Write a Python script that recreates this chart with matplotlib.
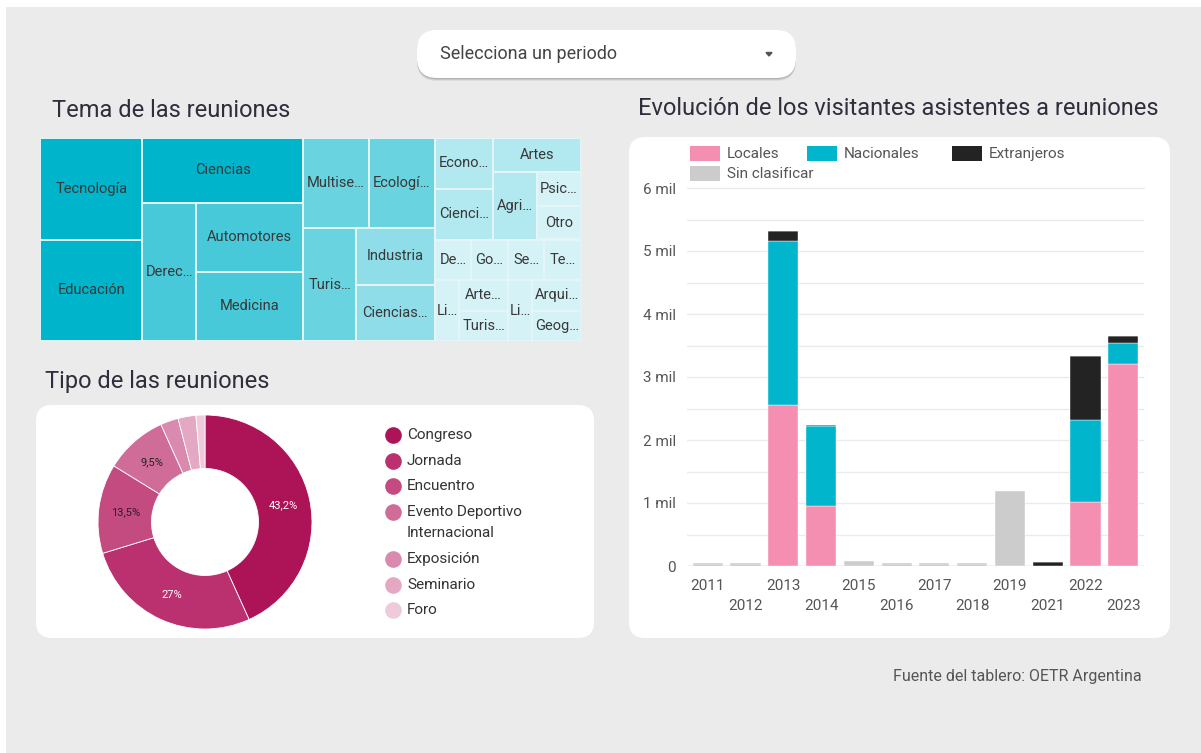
import matplotlib.pyplot as plt
import matplotlib.colors as mcolors
from matplotlib.patches import FancyBboxPatch, Rectangle, Polygon
from matplotlib import transforms

plt.rcParams['font.family'] = ['Roboto', 'DejaVu Sans']

W, H = 1201, 753

# --- Tema de las reuniones (cantidad de reuniones por tema) ---
temas = ['Tecnología', 'Educación', 'Ciencias', 'Derec…', 'Automotores', 'Medicina',
         'Multise…', 'Ecologí…', 'Turis…', 'Industria', 'Ciencias…',
         'Econo…', 'Cienci…', 'Artes', 'Agri…', 'Psic…', 'Otro',
         'De…', 'Go…', 'Se…', 'Te…', 'Li…', 'Arte…', 'Turis…', 'Li…', 'Arqui…', 'Geog…']
temas_n = [7, 7, 7, 5, 5, 5, 4, 4, 4, 3, 3, 2, 2, 2, 2,
           1, 1, 1, 1, 1, 1, 1, 1, 1, 1, 1, 1]
# grupos del treemap: cada nivel alterna columnas y filas
temas_grupos = [[0, 1],
                [2, [3, [4, 5]]],
                [[6, 7], [8, [9, 10]]],
                [[[11, 12], [13, [14, [15, 16]]]], [17, 18, 19, 20], [21, [22, 23], 24, [25, 26]]]]

# --- Tipo de las reuniones ---
tipos = ['Congreso', 'Jornada', 'Encuentro', 'Evento Deportivo\nInternacional',
         'Exposición', 'Seminario', 'Foro']
tipos_n = [32, 20, 10, 7, 2, 2, 1]
tipos_colores = ['#ad1457', '#bb3170', '#c44b80', '#cf6c98', '#d98aae', '#e4a8c3', '#efcadb']

# --- Visitantes por año ---
anios = ['2011', '2012', '2013', '2014', '2015', '2016', '2017', '2018',
         '2019', '2021', '2022', '2023']
locales = [0, 0, 2550, 955, 0, 0, 0, 0, 0, 0, 1015, 3210]
nacionales = [15, 15, 2605, 1275, 0, 15, 15, 15, 0, 0, 1295, 335]
extranjeros = [0, 0, 160, 10, 0, 0, 0, 0, 0, 70, 1030, 110]
sin_clasificar = [25, 25, 0, 0, 80, 25, 25, 25, 1195, 0, 0, 0]
series = [('Locales', locales, '#f48fb1'),
          ('Nacionales', nacionales, '#00b5cc'),
          ('Extranjeros', extranjeros, '#232323'),
          ('Sin clasificar', sin_clasificar, '#cccccc')]


def px_axes(fig, x0, y0, x1, y1, **kw):
    return fig.add_axes([x0 / W, 1 - y1 / H, (x1 - x0) / W, (y1 - y0) / H], **kw)


fig = plt.figure(figsize=(W / 100, H / 100), dpi=100, facecolor='white')

# fondo y paneles, en coordenadas de pixel
bg = fig.add_axes([0, 0, 1, 1], zorder=0)
bg.set_xlim(0, W)
bg.set_ylim(H, 0)
bg.axis('off')
bg.add_patch(Rectangle((6, 7), W, H, color='#ebebeb', lw=0))
for (x, y, w, h) in [(36, 405, 558, 233), (629, 137, 541, 501)]:
    bg.add_patch(FancyBboxPatch((x, y), w, h, boxstyle='round,pad=0,rounding_size=16',
                                fc='white', ec='none'))

# selector de periodo
for off, a in [(3, 0.06), (2, 0.10), (1, 0.10)]:
    bg.add_patch(FancyBboxPatch((417, 30 + off), 379, 48, boxstyle='round,pad=0,rounding_size=20',
                                fc='black', ec='none', alpha=a))
bg.add_patch(FancyBboxPatch((417, 30), 379, 48, boxstyle='round,pad=0,rounding_size=20',
                            fc='white', ec='none'))
bg.text(440, 54, 'Selecciona un periodo', fontsize=13, color='#444444', va='center')
bg.add_patch(Polygon([(766, 52.5), (772, 52.5), (769, 56)], closed=True, color='#555555'))

title_kw = dict(fontsize=17, color='#2e2e3c', va='center')
bg.text(52, 110, 'Tema de las reuniones', **title_kw)
bg.text(45, 381, 'Tipo de las reuniones', **title_kw)
bg.text(638, 108, 'Evolución de los visitantes asistentes a reuniones', **title_kw)
bg.text(1142, 677, 'Fuente del tablero: OETR Argentina', fontsize=11.5, color='#555555',
        ha='right', va='center')

# --- treemap ---
tm = px_axes(fig, 40, 138, 581, 341, zorder=2)
TW, TH = 541, 203
tm.set_xlim(0, TW)
tm.set_ylim(TH, 0)
tm.axis('off')


def total(node):
    if isinstance(node, int):
        return temas_n[node]
    return sum(total(c) for c in node)


rects = {}


def layout(node, x, y, w, h, depth):
    if isinstance(node, int):
        rects[node] = (x, y, w, h)
        return
    t = total(node)
    for child in node:
        f = total(child) / t
        if depth % 2 == 0:
            layout(child, x, y, w * f, h, depth + 1)
            x += w * f
        else:
            layout(child, x, y, w, h * f, depth + 1)
            y += h * f


layout(temas_grupos, 0, 0, TW, TH, 0)
tcmap = mcolors.LinearSegmentedColormap.from_list('tema', ['#d5f2f6', '#00b4cb'])
tnorm = mcolors.Normalize(min(temas_n), max(temas_n))
for i, (x, y, w, h) in rects.items():
    tm.add_patch(Rectangle((x, y), w, h, fc=tcmap(tnorm(temas_n[i])), ec='#e4f6f8', lw=1.4))
    tm.text(x + w / 2, y + h / 2, temas[i], ha='center', va='center', fontsize=10.5,
            color='#383838')

# --- dona ---
dn = px_axes(fig, 98, 415, 312, 629, zorder=2)


def pct_label(p):
    if p < 5:
        return ''
    return f'{p:.1f}'.rstrip('0').rstrip('.').replace('.', ',') + '%'


wedges, _, autotexts = dn.pie(tipos_n, colors=tipos_colores, startangle=90, counterclock=False,
                              radius=1, wedgeprops=dict(width=0.5, edgecolor='white', linewidth=0.6),
                              autopct=pct_label, pctdistance=0.75,
                              textprops=dict(fontsize=8))
for i, t in enumerate(autotexts):
    t.set_color('white' if i < 2 else '#222222')
dn.set_xlim(-1, 1)
dn.set_ylim(-1, 1)
dn.set_aspect('equal')

ly = 435
for name, col in zip(tipos, tipos_colores):
    bg.scatter([393], [ly], s=120, color=col, zorder=3)
    for j, line in enumerate(name.split('\n')):
        bg.text(407, ly + 21.5 * j, line, fontsize=11, color='#333333', va='center')
    ly += 25.6 + 21.5 * name.count('\n')

# --- barras apiladas ---
ax = px_axes(fig, 687, 188, 1144, 566, zorder=2)
ax.set_facecolor('none')
xs = list(range(len(anios)))
base = [0] * len(anios)
for name, vals, col in series:
    ax.bar(xs, vals, bottom=base, width=0.8, color=col, edgecolor='white', linewidth=0.3,
           zorder=3)
    base = [b + v for b, v in zip(base, vals)]
ax.set_xlim(-0.55, len(anios) - 0.45)
ax.set_ylim(0, 6000)
ax.set_yticks(range(0, 6001, 500))
ax.set_yticklabels(['0' if v == 0 else (f'{v // 1000} mil' if v % 1000 == 0 else '')
                    for v in range(0, 6001, 500)])
ax.yaxis.grid(True, color='#ebebeb', lw=1, zorder=0)
ax.tick_params(axis='y', length=0, pad=8, labelsize=11, labelcolor='#555555')
ax.set_xticks([])
for s in ax.spines.values():
    s.set_visible(False)
ax.axhline(0, color='#cfcfcf', lw=1, zorder=2)
for i, a in enumerate(anios):
    dy = -20 if i % 2 == 0 else -40
    ax.text(i, 0, a, ha='center', va='center', fontsize=11, color='#555555',
            transform=transforms.offset_copy(ax.get_xaxis_transform(), fig=fig, y=dy, units='dots'))
ax.get_yaxis().get_major_ticks()[-1].gridline.set_clip_on(False)

# leyenda de las series
legend_pos = [(690, 146), (807, 146), (952, 146), (690, 166)]
for (name, _, col), (lx, ly) in zip(series, legend_pos):
    bg.add_patch(Rectangle((lx, ly), 30, 15, color=col, lw=0, zorder=3))
    bg.text(lx + 37, ly + 7.5, name, fontsize=11, color='#555555', va='center')

fig.savefig('out.png', dpi=100)
